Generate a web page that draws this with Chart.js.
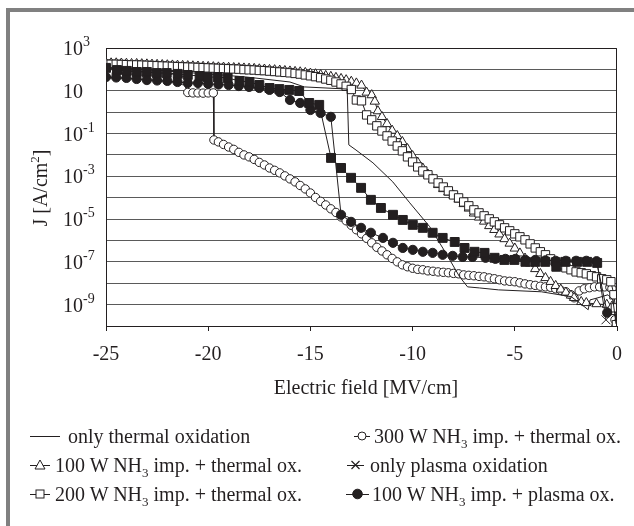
<!DOCTYPE html>
<html>
<head>
<meta charset="utf-8">
<script src="https://cdn.jsdelivr.net/npm/chart.js@4.4.1/dist/chart.umd.min.js"></script>
<style>
html,body{margin:0;padding:0;background:#fff;}
#wrap{position:relative;width:634px;height:526px;overflow:hidden;font-family:'Liberation Serif','Times New Roman',serif;color:#231f20;}
#c{position:absolute;left:0;top:0;}
.frameL{position:absolute;left:6px;top:8px;width:4px;height:518px;background:#808080;}
.frameT{position:absolute;left:6px;top:8px;width:628px;height:4px;background:#808080;}
.ytitle{position:absolute;left:40px;top:188px;transform:translate(-50%,-50%) rotate(-90deg);font-size:20px;line-height:20px;white-space:nowrap;}
.xtitle{position:absolute;left:166px;width:400px;top:377px;text-align:center;font-size:20px;line-height:20px;white-space:nowrap;}
.leg{position:absolute;height:20px;display:flex;align-items:center;font-size:20px;line-height:20px;white-space:nowrap;}
.leg svg{flex:none;}
.yt{position:absolute;height:20px;font-size:20px;line-height:20px;white-space:nowrap;}
sub{font-size:13px;vertical-align:-5px;line-height:0;}
sup{font-size:13px;vertical-align:8px;line-height:0;}
.yt sup{font-size:14px;vertical-align:9px;}
</style>
</head>
<body>
<div id="wrap">
<canvas id="c" width="634" height="526"></canvas>
<div class="frameL"></div><div class="frameT"></div>
<div class="ytitle">J [A/cm<sup>2</sup>]</div>
<div class="xtitle">Electric field [MV/cm]</div>
<div id="yticks"></div>
<div id="legend"></div>
</div>
<script>
// ---------- data (x in MV/cm, logJ = log10 of J in A/cm^2) ----------
const xTicks = [-25, -20, -15, -10, -5, 0];
const yGridExponents = [3, 2, 1, 0, -1, -2, -3, -4, -5, -6, -7, -8, -9, -10];
const yTickExponents = [3, 1, -1, -3, -5, -7, -9];
const yTickLabels = ['10<sup>3</sup>', '10', '10<sup>-1</sup>', '10<sup>-3</sup>', '10<sup>-5</sup>', '10<sup>-7</sup>', '10<sup>-9</sup>'];

const legendLabels = [
  'only thermal oxidation',
  '300 W NH<sub>3</sub> imp. + thermal ox.',
  '100 W NH<sub>3</sub> imp. + thermal ox.',
  'only plasma oxidation',
  '200 W NH<sub>3</sub> imp. + thermal ox.',
  '100 W NH<sub>3</sub> imp. + plasma ox.'
];

// only thermal oxidation (line)
const thermalX = [-25, -23, -21, -19.5, -18.1, -16, -15.3, -13.2, -13.12, -12.77, -11.94, -10.97, -10.14, -9.16, -8.38, -7.7, -7.31, -6.73, -5.8, -3.7, -2.24, -1.9, -1.41, -1.32, -0.93, -0.44, -0.2, -0.05];
const thermalLogJ = [2.1, 1.98, 1.85, 1.75, 1.64, 1.41, 1.18, 1.08, -1.53, -1.77, -2.37, -3.26, -4.24, -5.36, -6.58, -7.7, -8.17, -8.22, -8.31, -8.40, -8.63, -8.87, -9.24, -8.78, -8.68, -8.54, -8.78, -9.9];

// 100 W NH3 imp. + thermal ox. (open triangles)
const tri100X = [-25, -24.75, -24.5, -24.25, -24, -23.75, -23.5, -23.25, -23, -22.75, -22.5, -22.25, -22, -21.75, -21.5, -21.25, -21, -20.75, -20.5, -20.25, -20, -19.75, -19.5, -19.25, -19, -18.75, -18.5, -18.25, -18, -17.75, -17.5, -17.25, -17, -16.75, -16.5, -16.25, -16, -15.75, -15.5, -15.25, -15, -14.75, -14.5, -14.25, -14, -13.75, -13.5, -13.25, -13, -12.75, -12.5,
  -12.25, -12.0, -11.85, -11.7,
  -11.5, -11.25, -11, -10.75, -10.5, -10.25, -10, -9.75, -9.5, -9.25, -9, -8.75, -8.5, -8.25, -8, -7.75, -7.5, -7.25, -7, -6.75, -6.5, -6.25, -6, -5.75, -5.5, -5.25, -5, -4.75, -4.5, -4.25, -4, -3.75, -3.5, -3.25, -3, -2.75, -2.5, -2.25,
  -2.1, -1.75, -1.5, -1.0, -0.5, -0.25, -0.1, -0.03];
const tri100LogJ = [2.30, 2.29, 2.29, 2.28, 2.27, 2.26, 2.26, 2.25, 2.24, 2.23, 2.22, 2.21, 2.20, 2.19, 2.18, 2.17, 2.16, 2.15, 2.14, 2.13, 2.12, 2.11, 2.10, 2.09, 2.08, 2.07, 2.06, 2.05, 2.04, 2.03, 2.01, 2.00, 1.98, 1.97, 1.95, 1.93, 1.91, 1.89, 1.87, 1.84, 1.81, 1.78, 1.74, 1.70, 1.66, 1.61, 1.56, 1.50, 1.43, 1.35, 1.25,
  0.92, 0.80, 0.50, 0.05,
  -0.22, -0.55, -0.86, -1.11, -1.39, -1.72, -2.05, -2.35, -2.63, -2.91, -3.14, -3.40, -3.59, -3.75, -3.89, -4.08, -4.29, -4.50, -4.73, -4.92, -5.11, -5.32, -5.50, -5.71, -5.93, -6.14, -6.37, -6.60, -6.84, -7.07, -7.33, -7.56, -7.75, -7.93, -8.12, -8.29, -8.43, -8.57,
  -8.68, -8.87, -8.92, -8.97, -9.00, -9.09, -9.34, -9.85];

// 200 W NH3 imp. + thermal ox. (open squares)
const sq200X = [-25, -24.75, -24.5, -24.25, -24, -23.75, -23.5, -23.25, -23, -22.75, -22.5, -22.25, -22, -21.75, -21.5, -21.25, -21, -20.75, -20.5, -20.25, -20, -19.75, -19.5, -19.25, -19, -18.75, -18.5, -18.25, -18, -17.75, -17.5, -17.25, -17, -16.75, -16.5, -16.25, -16, -15.75, -15.5, -15.25, -15, -14.75, -14.5, -14.25, -14, -13.75, -13.5, -13.25,
  -13.0, -12.75, -12.5, -12.25,
  -12, -11.75, -11.5, -11.25, -11, -10.75, -10.5, -10.25, -10, -9.75, -9.5, -9.25, -9, -8.75, -8.5, -8.25, -8, -7.75, -7.5, -7.25, -7, -6.75, -6.5, -6.25, -6, -5.75, -5.5, -5.25, -5, -4.75, -4.5, -4.25, -4, -3.75, -3.5, -3.25, -3, -2.75, -2.5, -2.25, -2, -1.75, -1.5, -1.25, -1, -0.75, -0.5,
  -0.3, -0.15, -0.08, -0.03];
const sq200LogJ = [2.25, 2.24, 2.24, 2.23, 2.22, 2.21, 2.21, 2.20, 2.19, 2.18, 2.17, 2.16, 2.15, 2.14, 2.13, 2.12, 2.11, 2.10, 2.09, 2.08, 2.07, 2.06, 2.05, 2.04, 2.03, 2.02, 2.01, 1.99, 1.98, 1.97, 1.95, 1.94, 1.92, 1.90, 1.88, 1.86, 1.84, 1.81, 1.78, 1.74, 1.70, 1.66, 1.61, 1.55, 1.49, 1.41, 1.32, 1.21,
  1.06, 0.57, 0.53, -0.13,
  -0.36, -0.64, -0.88, -1.11, -1.35, -1.58, -1.81, -2.09, -2.33, -2.56, -2.75, -2.93, -3.12, -3.31, -3.50, -3.68, -3.87, -4.01, -4.20, -4.38, -4.57, -4.71, -4.85, -4.99, -5.13, -5.27, -5.41, -5.55, -5.69, -5.83, -5.97, -6.16, -6.35, -6.53, -6.67, -6.86, -7.00, -7.14, -7.28, -7.37, -7.47, -7.51, -7.56, -7.65, -7.70, -7.79, -7.84,
  -7.93, -8.54, -9.15, -9.94];

// 300 W NH3 imp. + thermal ox. (open circles)
const circ300X = [-25, -24.75, -24.5, -24.25, -24, -23.75, -23.5, -23.25, -23, -22.75, -22.5, -22.25, -22, -21.75, -21.5, -21.25,
  -21, -20.75, -20.5, -20.25, -20, -19.75,
  -19.72, -19.5, -19.25, -19, -18.75, -18.5, -18.25, -18, -17.75, -17.5, -17.25, -17, -16.75, -16.5, -16.25, -16, -15.75, -15.5, -15.25, -15, -14.75, -14.5, -14.25, -14, -13.75, -13.5, -13.25, -13, -12.75, -12.5, -12.25, -12, -11.75, -11.5, -11.25, -11, -10.75, -10.5, -10.25, -10, -9.75, -9.5, -9.25, -9, -8.75, -8.5, -8.25, -8, -7.75, -7.5, -7.25, -7, -6.75, -6.5, -6.25, -6, -5.75, -5.5, -5.25, -5, -4.75, -4.5, -4.25, -4, -3.75, -3.5, -3.25, -3, -2.75, -2.5, -2.25,
  -2.1, -1.85, -1.6, -1.35, -1.1, -0.85, -0.6, -0.35, -0.25, -0.1];
const circ300LogJ = [1.80, 1.79, 1.78, 1.77, 1.76, 1.74, 1.73, 1.71, 1.70, 1.68, 1.66, 1.64, 1.61, 1.58, 1.54, 1.48,
  0.92, 0.90, 0.90, 0.89, 0.90, 0.90,
  -1.30, -1.39, -1.51, -1.63, -1.74, -1.88, -2.00, -2.09, -2.21, -2.35, -2.47, -2.61, -2.72, -2.84, -2.98, -3.12, -3.26, -3.43, -3.59, -3.78, -3.99, -4.17, -4.34, -4.52, -4.69, -4.90, -5.08, -5.29, -5.50, -5.69, -5.90, -6.11, -6.32, -6.49, -6.67, -6.84, -7.00, -7.14, -7.23, -7.30, -7.35, -7.37, -7.42, -7.44, -7.47, -7.49, -7.51, -7.54, -7.56, -7.61, -7.63, -7.65, -7.68, -7.70, -7.75, -7.79, -7.84, -7.89, -7.91, -7.93, -7.98, -8.03, -8.07, -8.10, -8.14, -8.17, -8.19, -8.26, -8.33, -8.40, -8.54,
  -8.68, -8.36, -8.26, -8.21, -8.17, -8.17, -8.17, -8.19, -8.26, -9.71];

// only plasma oxidation (filled squares, last point drawn as x)
const plasmaX = [-25, -24.46, -23.98, -23.49, -23.0, -22.51, -22.03, -21.49, -21.0, -20.42, -20.03, -19.54, -19.05, -18.47, -17.98, -17.5, -17.0, -16.52, -16.03, -15.55, -15.06, -14.57,
  -13.99, -13.5, -13.01, -12.52, -12.04, -11.55, -10.96, -10.48, -9.99, -9.5, -9.02, -8.53, -7.94, -7.46, -6.97, -6.48, -5.99, -5.51, -5.02, -4.48, -4.0, -3.51, -2.97, -2.53, -1.95, -1.46, -0.97, -0.54];
const plasmaLogJ = [2.07, 1.97, 1.93, 1.88, 1.88, 1.83, 1.83, 1.79, 1.74, 1.69, 1.64, 1.64, 1.60, 1.46, 1.41, 1.27, 1.13, 1.08, 1.04, 0.99, 0.43, 0.34,
  -2.14, -2.61, -3.07, -3.54, -4.10, -4.48, -4.80, -5.04, -5.27, -5.41, -5.64, -5.88, -6.07, -6.35, -6.53, -6.58, -6.81, -6.91, -6.91, -7.00, -7.00, -7.00, -7.23, -7.00, -7.00, -7.00, -7.05, -9.71];

// 100 W NH3 imp. + plasma ox. (filled circles)
const circ100pX = [-25, -24.5, -24.0, -23.5, -23.0, -22.5, -22.0, -21.5, -21.0, -20.5, -20.0, -19.5, -19.0, -18.5, -18.0, -17.5, -17.0, -16.5, -16.0, -15.5, -15.0, -14.5, -14.0,
  -13.5, -13.01, -12.52, -12.04, -11.45, -10.96, -10.48, -9.99, -9.5, -9.02, -8.53, -8.04, -7.55, -7.07, -6.43, -5.95, -5.46, -4.97, -4.48, -4.0, -3.5, -3.0, -2.5, -2.0, -1.5, -1.0, -0.48];
const circ100pLogJ = [1.64, 1.62, 1.60, 1.55, 1.50, 1.48, 1.46, 1.41, 1.36, 1.36, 1.32, 1.29, 1.27, 1.22, 1.18, 1.13, 1.04, 0.94, 0.57, 0.43, 0.10, -0.04, -0.22,
  -4.80, -5.13, -5.41, -5.64, -5.88, -6.11, -6.35, -6.44, -6.53, -6.58, -6.67, -6.72, -6.77, -6.77, -6.81, -6.86, -6.86, -6.86, -6.91, -6.91, -6.93, -6.95, -6.95, -6.95, -6.95, -6.97, -9.38];

// ---------- chart ----------
const FONT = "'Liberation Serif', 'Times New Roman', serif";
const INK = '#231f20';

function pts(xs, ls) { return xs.map((x, i) => ({ x: x, y: Math.pow(10, ls[i]) })); }

const plasmaStyles = plasmaX.map((_, i) => i === plasmaX.length - 1 ? 'crossRot' : 'rect');

const datasets = [
  { label: 'only plasma oxidation', data: pts(plasmaX, plasmaLogJ), pointStyle: plasmaStyles,
    pointRadius: 6.3, pointBackgroundColor: INK, pointBorderColor: INK, pointBorderWidth: 1 },
  { label: '100 W NH3 imp. + plasma ox.', data: pts(circ100pX, circ100pLogJ), pointStyle: 'circle',
    pointRadius: 4.6, pointBackgroundColor: INK, pointBorderColor: INK, pointBorderWidth: 1 },
  { label: 'only thermal oxidation', data: pts(thermalX, thermalLogJ), pointRadius: 0 },
  { label: '200 W NH3 imp. + thermal ox.', data: pts(sq200X, sq200LogJ), pointStyle: 'rect',
    pointRadius: 5.9, pointBackgroundColor: '#fff', pointBorderColor: INK, pointBorderWidth: 1 },
  { label: '100 W NH3 imp. + thermal ox.', data: pts(tri100X, tri100LogJ), pointStyle: 'triangle',
    pointRadius: 5.4, pointBackgroundColor: '#fff', pointBorderColor: INK, pointBorderWidth: 1 },
  { label: '300 W NH3 imp. + thermal ox.', data: pts(circ300X, circ300LogJ), pointStyle: 'circle',
    pointRadius: 4.2, pointBackgroundColor: '#fff', pointBorderColor: INK, pointBorderWidth: 1 }
].map(d => Object.assign({ showLine: true, borderColor: INK, borderWidth: 1, tension: 0, fill: false }, d));

const framePlugin = {
  id: 'frameLines',
  afterDraw(chart) {
    const a = chart.chartArea, ctx = chart.ctx;
    ctx.save();
    ctx.strokeStyle = INK; ctx.lineWidth = 1;
    ctx.beginPath();
    ctx.moveTo(Math.round(a.left) + 0.5, Math.round(a.top) + 0.5);
    ctx.lineTo(Math.round(a.right) - 0.5, Math.round(a.top) + 0.5);
    ctx.lineTo(Math.round(a.right) - 0.5, Math.round(a.bottom) + 0.5);
    ctx.stroke();
    ctx.restore();
  }
};

// y tick labels as real HTML text (with superscripts), placed by the library's own y scale
const yLabelPlugin = {
  id: 'yHtmlLabels',
  afterRender(chart) {
    const host = document.getElementById('yticks');
    if (host.childElementCount) return;
    const ys = chart.scales.y;
    yTickExponents.forEach((e, i) => {
      const py = ys.getPixelForValue(Math.pow(10, e));
      const d = document.createElement('div');
      d.className = 'yt';
      d.style.left = ys.left + 'px';
      d.style.top = (py - 10) + 'px';
      d.innerHTML = yTickLabels[i];
      host.appendChild(d);
    });
  }
};

new Chart(document.getElementById('c'), {
  type: 'scatter',
  data: { datasets: datasets },
  options: {
    responsive: false,
    animation: false,
    events: [],
    layout: { padding: { left: 63, right: 15, top: 48, bottom: 160 } },
    plugins: { legend: { display: false }, tooltip: { enabled: false } },
    scales: {
      x: {
        type: 'linear', min: -25, max: 0,
        afterBuildTicks: s => { s.ticks = xTicks.map(v => ({ value: v })); },
        afterFit: s => { s.height = 40; },
        grid: { drawOnChartArea: false, drawTicks: true, tickLength: 5, color: INK },
        border: { color: INK, width: 1 },
        ticks: { font: { family: FONT, size: 20 }, color: INK, padding: 12, maxRotation: 0, autoSkip: false }
      },
      y: {
        type: 'logarithmic', min: 1e-10, max: 1e3,
        afterBuildTicks: s => { s.ticks = yGridExponents.map(e => ({ value: Math.pow(10, e) })); },
        afterFit: s => { s.width = 43; },
        grid: { color: '#5a5a5a', drawTicks: false, lineWidth: 1 },
        border: { color: INK, width: 1 },
        ticks: { display: false }
      }
    }
  },
  plugins: [framePlugin, yLabelPlugin]
});

// ---------- HTML legend (real text with subscripts) ----------
function markerSvg(kind, w) {
  const c = w / 2, y = 10;
  let m = '';
  if (kind === 'tri') m = `<polygon points="${c},${y-5} ${c+5},${y+4} ${c-5},${y+4}" fill="#fff" stroke="${INK}"/>`;
  if (kind === 'sq') m = `<rect x="${c-4}" y="${y-4}" width="8" height="8" fill="#fff" stroke="${INK}"/>`;
  if (kind === 'oc') m = `<circle cx="${c}" cy="${y}" r="4" fill="#fff" stroke="${INK}"/>`;
  if (kind === 'fc') m = `<circle cx="${c}" cy="${y}" r="4.8" fill="${INK}" stroke="${INK}"/>`;
  if (kind === 'x') m = `<path d="M${c-4},${y-4} L${c+4},${y+4} M${c+4},${y-4} L${c-4},${y+4}" stroke="${INK}" stroke-width="1.2"/>`;
  return `<svg width="${w}" height="20" viewBox="0 0 ${w} 20"><line x1="0" y1="${y}.5" x2="${w}" y2="${y}.5" stroke="${INK}" stroke-width="1"/>${m}</svg>`;
}
const legendItems = [
  { left: 30, cy: 436, kind: 'line', w: 30, gap: 8, text: legendLabels[0] },
  { left: 354, cy: 436, kind: 'oc', w: 16, gap: 4, text: legendLabels[1] },
  { left: 30, cy: 465, kind: 'tri', w: 20, gap: 5, text: legendLabels[2] },
  { left: 347, cy: 465, kind: 'x', w: 17, gap: 6, text: legendLabels[3] },
  { left: 30, cy: 494, kind: 'sq', w: 20, gap: 5, text: legendLabels[4] },
  { left: 346, cy: 494, kind: 'fc', w: 23, gap: 3, text: legendLabels[5] }
];
const legEl = document.getElementById('legend');
legendItems.forEach(it => {
  const d = document.createElement('div');
  d.className = 'leg';
  d.style.left = it.left + 'px';
  d.style.top = (it.cy - 10) + 'px';
  d.innerHTML = markerSvg(it.kind, it.w) + `<span style="margin-left:${it.gap}px">${it.text}</span>`;
  legEl.appendChild(d);
});
</script>
</body>
</html>
